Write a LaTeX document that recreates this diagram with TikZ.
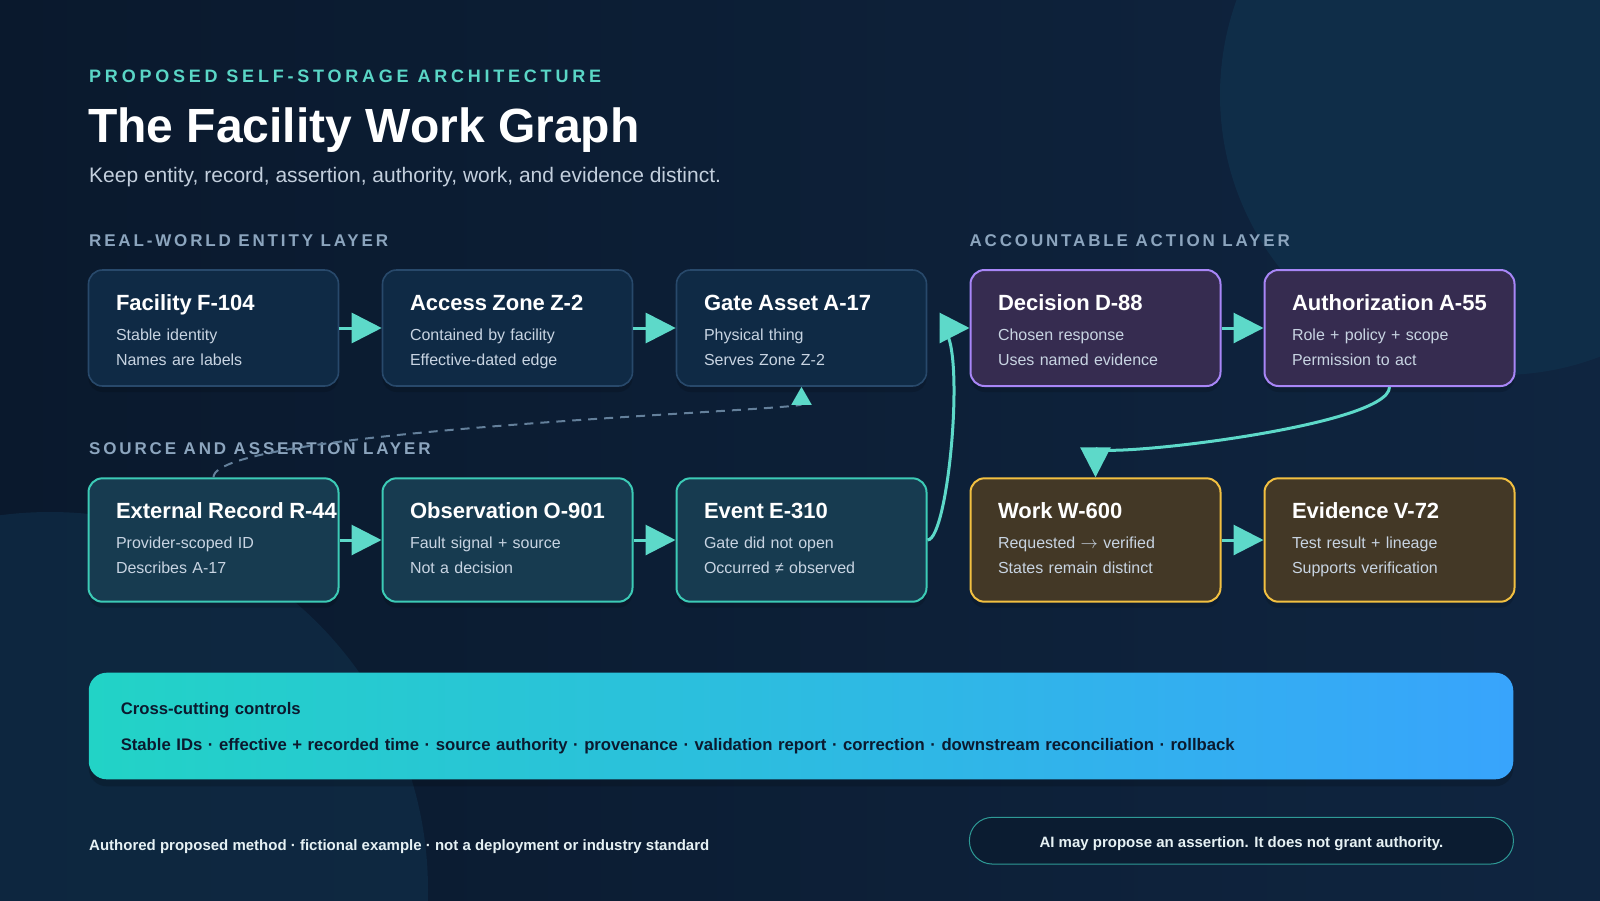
\documentclass[tikz,border=0pt]{standalone}
\usepackage{fontspec}
\setmainfont{Liberation Sans}
\usetikzlibrary{positioning, arrows.meta, shadows}

\definecolor{bgleft}{HTML}{0A192D}
\definecolor{bgright}{HTML}{0F2540}
\definecolor{glow}{HTML}{10304B}
\definecolor{kicker}{HTML}{5AD6C6}
\definecolor{subtxt}{HTML}{C3CFDD}
\definecolor{layertxt}{HTML}{8CA5BE}
\definecolor{bodytxt}{HTML}{C8D4E2}
\definecolor{entityfill}{HTML}{0F2A45}
\definecolor{entityline}{HTML}{28496B}
\definecolor{sourcefill}{HTML}{173B50}
\definecolor{sourceline}{HTML}{3CCBB6}
\definecolor{actionfill}{HTML}{362C50}
\definecolor{actionline}{HTML}{A886F7}
\definecolor{workfill}{HTML}{433826}
\definecolor{workline}{HTML}{F2C041}
\definecolor{flow}{HTML}{5DD9C9}
\definecolor{dashc}{HTML}{64809B}
\definecolor{barleft}{HTML}{22D3C6}
\definecolor{barright}{HTML}{38A4FC}
\definecolor{bartxt}{HTML}{0B1A2F}
\definecolor{notefill}{HTML}{0B1C31}
\definecolor{noteline}{HTML}{2E9A96}
\definecolor{foottxt}{HTML}{E6F1F4}

\newcommand{\cardtext}[3]{\mbox{\fontsize{22}{25}\selectfont\bfseries\color{white}#1}\\[5pt]#2\\#3}

\begin{document}
\begin{tikzpicture}[
    x=1pt, y=-1pt,
    node distance=212pt and 294pt,
    on grid,
    card/.style={rectangle, rounded corners=14pt, line width=2pt, inner xsep=27.5pt, inner ysep=0pt,
        text width=195pt, align=left, text height=40pt, font=\fontsize{16}{25}\selectfont, text=bodytxt,
        drop shadow={shadow xshift=0pt, shadow yshift=-6pt, opacity=0.14, fill=black}},
    entitybox/.style={card, text depth=76pt, fill=entityfill, draw=entityline, line width=1.6pt},
    sourcebox/.style={card, text depth=83.4pt, fill=sourcefill, draw=sourceline},
    actionbox/.style={card, text depth=76pt, fill=actionfill, draw=actionline},
    workbox/.style={card, text depth=83.4pt, fill=workfill, draw=workline},
    plain/.style={anchor=base west, inner sep=0pt},
    layer/.style={plain, text=layertxt, font=\fontsize{17}{20}\selectfont\bfseries\addfontfeature{LetterSpace=16.7}},
    controlbar/.style={rectangle, rounded corners=18pt, left color=barleft, right color=barright,
        inner xsep=32pt, inner ysep=0pt, text width=1360.5pt, align=left, text height=41.3pt, text depth=65.3pt,
        text=bartxt, font=\fontsize{16.7}{20}\selectfont\bfseries,
        drop shadow={shadow xshift=0pt, shadow yshift=-7pt, opacity=0.16, fill=black}},
    notebox/.style={rectangle, rounded corners=23pt, minimum width=544pt, minimum height=46.7pt, inner sep=0pt,
        fill=notefill, draw=noteline, line width=1pt, text=foottxt, text height=14pt, text depth=0.8pt,
        font=\fontsize{15}{18}\selectfont\bfseries},
    flowline/.style={draw=flow, line width=3pt, ->},
    dashlink/.style={draw=dashc, line width=2pt, dash pattern=on 9pt off 7pt, -{Triangle[length=18pt, width=20pt, color=flow]}},
    every edge/.append style={draw=flow, line width=3pt},
    >={Triangle[length=30pt, width=30pt]}
]

   % Backdrop
   \useasboundingbox (0,0) rectangle (1600,900);
   \shade[left color=bgleft, right color=bgright] (0,0) rectangle (1600,900);
   \begin{scope}
      \clip (0,0) rectangle (1600,900);
      \fill[glow, opacity=0.8] (1500,95) circle[radius=280pt];
      \fill[glow, opacity=0.6] (50,890) circle[radius=378pt];
   \end{scope}

   % Header
   \node[plain, text=kicker, font=\fontsize{18}{20}\selectfont\bfseries\addfontfeature{LetterSpace=21}] (kicker) at (89,82) {PROPOSED SELF-STORAGE ARCHITECTURE};
   \node[plain, text=white, font=\fontsize{48}{54}\selectfont\bfseries] (title) at (88,142) {The Facility Work Graph};
   \node[plain, text=subtxt, font=\fontsize{21}{24}\selectfont] (subtitle) at (89,182) {Keep entity, record, assertion, authority, work, and evidence distinct.};

   % Layer labels
   \node[layer] (entitylbl) at (89,246) {REAL-WORLD ENTITY LAYER};
   \node[layer] (actionlbl) at (969.4,246) {ACCOUNTABLE ACTION LAYER};
   \node[layer] (sourcelbl) at (89,454) {SOURCE AND ASSERTION LAYER};

   % Entity and action row
   \node[entitybox] (F) at (213.5,328) {\cardtext{Facility F-104}{Stable identity}{Names are labels}};
   \node[entitybox, right=of F] (Z) {\cardtext{Access Zone Z-2}{Contained by facility}{Effective-dated edge}};
   \node[entitybox, right=of Z] (A17) {\cardtext{Gate Asset A-17}{Physical thing}{Serves Zone Z-2}};
   \node[actionbox, right=of A17] (D88) {\cardtext{Decision D-88}{Chosen response}{Uses named evidence}};
   \node[actionbox, right=of D88] (A55) {\cardtext{Authorization A-55}{Role + policy + scope}{Permission to act}};

   % Source and work row
   \node[sourcebox, below=of F] (R) {\cardtext{External Record R-44}{Provider-scoped ID}{Describes A-17}};
   \node[sourcebox, right=of R] (O) {\cardtext{Observation O-901}{Fault signal + source}{Not a decision}};
   \node[sourcebox, right=of O] (E) {\cardtext{Event E-310}{Gate did not open}{Occurred ≠ observed}};
   \node[workbox, right=of E] (W) {\cardtext{Work W-600}{Requested $\rightarrow$ verified}{States remain distinct}};
   \node[workbox, right=of W] (V) {\cardtext{Evidence V-72}{Test result + lineage}{Supports verification}};

   % Links
   \path[->]
   (F) edge (Z)
   (Z) edge (A17)
   (D88) edge (A55)
   (R) edge (O)
   (O) edge (E)
   (W) edge (V);

   \draw[flowline] (E.east) .. controls +(22,0) and +(-2,0) .. (D88.west);
   \draw[flowline] (A55.south) .. controls +(0,40) and +(0,-18) .. (W.north);
   \draw[dashlink] (R.north) .. controls +(0,-48) and +(0,24) .. (A17.south);

   % Cross-cutting controls
   \node[controlbar] (controls) at (801,726) {Cross-cutting controls\\[16pt]Stable IDs · effective + recorded time · source authority · provenance · validation report · correction · downstream reconciliation · rollback};

   % Footer
   \node[plain, text=foottxt, font=\fontsize{15}{18}\selectfont\bfseries] (footnote) at (89,850.7) {Authored proposed method · fictional example · not a deployment or industry standard};
   \node[notebox] (aside) at (1241.4,840.7) {AI may propose an assertion. It does not grant authority.};

\end{tikzpicture}
\end{document}
